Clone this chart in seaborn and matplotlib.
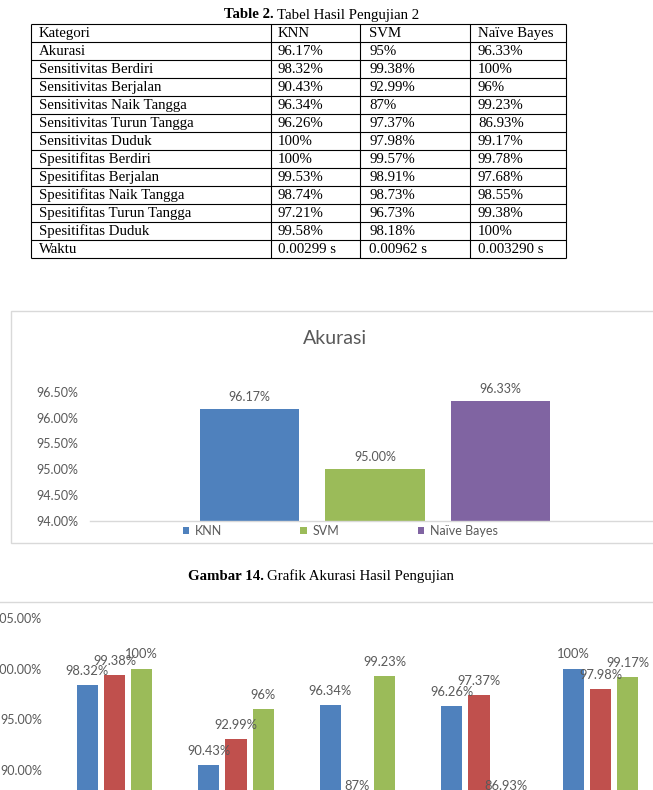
import matplotlib
matplotlib.use("Agg")
import matplotlib.pyplot as plt
import seaborn as sns
import pandas as pd
from matplotlib.patches import Rectangle

# ---------------- data ----------------
table_title_bold = "Table 2."
table_title_rest = "Tabel Hasil Pengujian 2"
table_header = ["Kategori", "KNN", "SVM", "Naïve Bayes"]
table_kategori = ["Akurasi", "Sensitivitas Berdiri", "Sensitivitas Berjalan",
                  "Sensitivitas Naik Tangga", "Sensitivitas Turun Tangga",
                  "Sensitivitas Duduk", "Spesitifitas Berdiri", "Spesitifitas Berjalan",
                  "Spesitifitas Naik Tangga", "Spesitifitas Turun Tangga",
                  "Spesitifitas Duduk", "Waktu"]
table_knn = ["96.17%", "98.32%", "90.43%", "96.34%", "96.26%", "100%", "100%",
             "99.53%", "98.74%", "97.21%", "99.58%", "0.00299 s"]
table_svm = ["95%", "99.38%", "92.99%", "87%", "97.37%", "97.98%", "99.57%",
             "98.91%", "98.73%", "96.73%", "98.18%", "0.00962 s"]
table_nb = ["96.33%", "100%", "96%", "99.23%", "86.93%", "99.17%", "99.78%",
            "97.68%", "98.55%", "99.38%", "100%", "0.003290 s"]

models = ["KNN", "SVM", "Naïve Bayes"]
akurasi = [96.17, 95.00, 96.33]
akurasi_title = "Akurasi"
akurasi_ticks = [94.0, 94.5, 95.0, 95.5, 96.0, 96.5]

caption_bold = "Gambar 14."
caption_rest = "Grafik Akurasi Hasil Pengujian"

sens_kategori = ["Berdiri", "Berjalan", "Naik Tangga", "Turun Tangga", "Duduk"]
sens_knn = [98.32, 90.43, 96.34, 96.26, 100.0]
sens_svm = [99.38, 92.99, 87.00, 97.37, 97.98]
sens_nb = [100.0, 96.00, 99.23, 86.93, 99.17]
sens_ticks = [80.0, 85.0, 90.0, 95.0, 100.0, 105.0]

# ---------------- style ----------------
sns.set_theme(style="white")
SANS = ["Lato", "DejaVu Sans"]
SERIF = ["Liberation Serif", "DejaVu Serif"]
plt.rcParams["font.family"] = SANS
GREY_TXT = "#595959"
GREY_LINE = "#D9D9D9"

W, H = 653, 790
fig = plt.figure(figsize=(W / 100, H / 100), dpi=100)
fig.patch.set_facecolor("white")

# background overlay in pixel coordinates
bg = fig.add_axes([0, 0, 1, 1], zorder=0)
bg.set_xlim(0, W)
bg.set_ylim(H, 0)
bg.axis("off")

# ---------------- table ----------------
tfs = 10.7
t1 = bg.text(224, 15, table_title_bold, family=SERIF, fontsize=tfs,
             fontweight="bold", ha="left", va="center", color="black")
bg.annotate(table_title_rest, xy=(1, 0.5), xycoords=t1, xytext=(2.5, 0),
            textcoords="offset points", family=SERIF, fontsize=tfs,
            ha="left", va="center", color="black")

col_lines = [31, 271, 360, 470, 566]
col_text = [39, 278, 369, 478]
top, row_h = 24, 18
n_rows = len(table_kategori) + 1
bg.hlines([top + i * row_h for i in range(n_rows + 1)], col_lines[0], col_lines[-1],
          color="black", lw=0.8)
bg.vlines(col_lines, top, top + n_rows * row_h, color="black", lw=0.8)
rows = [table_header] + [list(r) for r in zip(table_kategori, table_knn, table_svm, table_nb)]
for i, r in enumerate(rows):
    yc = top + i * row_h + row_h / 2 + 0.5
    for x, s in zip(col_text, r):
        bg.text(x, yc, s, family=SERIF, fontsize=tfs, ha="left", va="center", color="black")

# ---------------- chart 1 : Akurasi ----------------
bg.add_patch(Rectangle((11, 311), 700, 232, facecolor="white", edgecolor=GREY_LINE, lw=1))
bg.text(335, 338, akurasi_title, fontsize=14, color=GREY_TXT, ha="center", va="center")

pal1 = {"KNN": "#4F81BD", "SVM": "#9BBB59", "Naïve Bayes": "#8064A2"}
ax1 = fig.add_axes([90 / W, 1 - 520.5 / H, 570 / W, 128.5 / H], zorder=1)
ax1.set_facecolor("none")
sns.barplot(x=models, y=akurasi, hue=models, palette=pal1, dodge=False, width=0.79,
            saturation=1, linewidth=0, legend=True, ax=ax1)
ax1.set_ylim(akurasi_ticks[0], akurasi_ticks[-1])
ax1.set_xlim(-1.27, 3.27)
ax1.set_yticks(akurasi_ticks)
ax1.set_yticklabels([f"{t:.2f}%" for t in akurasi_ticks])
ax1.set_xticks([])
ax1.tick_params(axis="y", length=0, pad=8.6, labelsize=9, labelcolor=GREY_TXT)
for s in ["top", "left", "right"]:
    ax1.spines[s].set_visible(False)
ax1.spines["bottom"].set_color(GREY_LINE)
ax1.spines["bottom"].set_linewidth(1)
ax1.set_xlabel("")
ax1.set_ylabel("")
for c in ax1.containers:
    ax1.bar_label(c, fmt="{:.2f}%", padding=4.3, fontsize=9, color=GREY_TXT)
sns.move_legend(ax1, "center", bbox_to_anchor=(340 / W, 1 - 531 / H),
                bbox_transform=fig.transFigure, ncol=3, frameon=False, title=None,
                handlelength=0.5, handleheight=0.5, handletextpad=0.45,
                columnspacing=6.3, fontsize=9, labelcolor=GREY_TXT)

t2 = bg.text(188, 576, caption_bold, family=SERIF, fontsize=tfs, fontweight="bold",
             ha="left", va="center", color="black")
bg.annotate(caption_rest, xy=(1, 0.5), xycoords=t2, xytext=(2.5, 0),
            textcoords="offset points", family=SERIF, fontsize=tfs,
            ha="left", va="center", color="black")

# ---------------- chart 2 : Sensitivitas ----------------
bg.add_patch(Rectangle((-10, 602), 700, 400, facecolor="white", edgecolor=GREY_LINE, lw=1))
pal2 = {"KNN": "#4F81BD", "SVM": "#C0504D", "Naïve Bayes": "#9BBB59"}
df2 = pd.DataFrame({
    "Kategori": sens_kategori * 3,
    "Nilai": sens_knn + sens_svm + sens_nb,
    "Model": [m for m in models for _ in sens_kategori],
})
y_top, px_per = 618.0, 10.1
y_bot = y_top + (sens_ticks[-1] - sens_ticks[0]) * px_per
ax2 = fig.add_axes([53.75 / W, 1 - y_bot / H, 607.5 / W, (y_bot - y_top) / H], zorder=1)
ax2.set_facecolor("none")
sns.barplot(data=df2, x="Kategori", y="Nilai", hue="Model", hue_order=models,
            palette=pal2, width=0.667, gap=0.222, saturation=1, linewidth=0,
            legend=False, ax=ax2)
ax2.set_ylim(sens_ticks[0], sens_ticks[-1])
ax2.set_xlim(-0.5, len(sens_kategori) - 0.5)
ax2.set_yticks(sens_ticks)
ax2.set_yticklabels([f"{t:.2f}%" for t in sens_ticks])
ax2.tick_params(axis="both", length=0, pad=8.6, labelsize=9, labelcolor=GREY_TXT)
for s in ax2.spines.values():
    s.set_visible(False)
ax2.set_xlabel("")
ax2.set_ylabel("")
for c in ax2.containers:
    ax2.bar_label(c, fmt=lambda v: f"{v:g}%", padding=5.8, fontsize=9.3, color=GREY_TXT)

fig.savefig("out.png", dpi=100)
